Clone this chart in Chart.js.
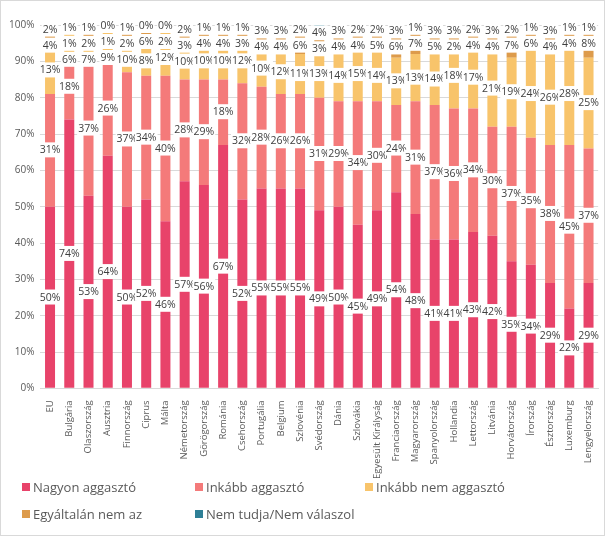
<!DOCTYPE html>
<html>
<head>
<meta charset="utf-8">
<script src="https://cdn.jsdelivr.net/npm/chart.js@4.4.1/dist/chart.umd.min.js"></script>
<style>
  html, body { margin: 0; padding: 0; background: #fff; }
  #wrap { position: relative; width: 605px; height: 536px; box-sizing: border-box; border: 1px solid #d9d9d9; font-family: "Open Sans", sans-serif; }
  #chartBox { position: absolute; left: 0; top: 0; width: 603px; height: 482px; }
  #legend { position: absolute; left: 21px; top: 477px; width: 580px; display: grid; grid-template-columns: 173px 170px 200px; row-gap: 9px; font-size: 13px; color: #595959; }
  .item { display: flex; align-items: center; white-space: nowrap; }
  .sw { width: 8px; height: 8px; margin-right: 3px; display: inline-block; }
</style>
</head>
<body>
<div id="wrap">
  <div id="chartBox"><canvas id="chart"></canvas></div>
  <div id="legend"></div>
</div>
<script>
// kategóriák és adatok (%)
const orszagok = ['EU', 'Bulgária', 'Olaszország', 'Ausztria', 'Finnország', 'Ciprus', 'Málta', 'Németország', 'Görögország', 'Románia', 'Csehország', 'Portugália', 'Belgium', 'Szlovénia', 'Svédország', 'Dánia', 'Szlovákia', 'Egyesült Királyság', 'Franciaország', 'Magyarország', 'Spanyolország', 'Hollandia', 'Lettország', 'Litvánia', 'Horvátország', 'Írország', 'Észtország', 'Luxemburg', 'Lengyelország'];

const nagyon     = [50, 74, 53, 64, 50, 52, 46, 57, 56, 67, 52, 55, 55, 55, 49, 50, 45, 49, 54, 48, 41, 41, 43, 42, 35, 34, 29, 22, 29];
const inkabb     = [31, 18, 37, 26, 37, 34, 40, 28, 29, 18, 32, 28, 26, 26, 31, 29, 34, 30, 24, 31, 37, 36, 34, 30, 37, 35, 38, 45, 37];
const inkabbNem  = [13,  6,  7,  9, 10,  8, 12, 10, 10, 10, 12, 10, 12, 11, 13, 14, 15, 14, 13, 13, 14, 18, 17, 21, 19, 24, 26, 28, 25];
const egyaltalan = [ 4,  1,  2,  1,  2,  6,  2,  3,  4,  4,  3,  4,  4,  6,  3,  4,  4,  5,  6,  7,  5,  2,  4,  4,  7,  6,  4,  4,  8];
const nemTudja   = [ 2,  1,  1,  0,  1,  0,  0,  2,  1,  1,  1,  3,  3,  2,  4,  3,  2,  2,  3,  1,  3,  3,  2,  3,  2,  1,  3,  1,  1];

const yTicks = [0, 10, 20, 30, 40, 50, 60, 70, 80, 90, 100];

const sorozatok = [
    { label: 'Nagyon aggasztó', data: nagyon, color: '#E8436A' },
    { label: 'Inkább aggasztó', data: inkabb, color: '#F47A7A' },
    { label: 'Inkább nem aggasztó', data: inkabbNem, color: '#F8C46B' },
    { label: 'Egyáltalán nem az', data: egyaltalan, color: '#DD9B4B' },
    { label: 'Nem tudja/Nem válaszol', data: nemTudja, color: '#2E7F96' }
];

// adatfeliratok: szegmens közepén, átfedésnél lefelé tolva
const labelPlugin = {
    id: 'segLabels',
    afterDatasetsDraw(chart) {
        const ctx = chart.ctx;
        const y = chart.scales.y;
        ctx.save();
        ctx.font = '10.5px "Open Sans"';
        ctx.textAlign = 'center';
        ctx.textBaseline = 'middle';
        orszagok.forEach((o, i) => {
            const meta0 = chart.getDatasetMeta(0);
            const x = meta0.data[i].x;
            let cum = 0;
            const pos = sorozatok.map(s => {
                const c = cum + s.data[i] / 2;
                cum += s.data[i];
                return y.getPixelForValue(c);
            });
            // felülről lefelé
            pos[pos.length - 1] += 1;
            for (let k = pos.length - 2; k >= 0; k--) {
                if (pos[k] < pos[k + 1] + 16) pos[k] = pos[k + 1] + 16;
            }
            sorozatok.forEach((s, k) => {
                const txt = s.data[i] + '%';
                const w = ctx.measureText(txt).width + 2;
                ctx.fillStyle = '#fff';
                ctx.fillRect(x - w / 2, pos[k] - 8, w, 15);
                ctx.fillStyle = '#404040';
                ctx.fillText(txt, x, pos[k]);
            });
        });
        ctx.restore();
    }
};

new Chart(document.getElementById('chart'), {
    type: 'bar',
    data: {
        labels: orszagok,
        datasets: sorozatok.map(s => ({
            label: s.label,
            data: s.data,
            backgroundColor: s.color,
            barPercentage: 0.52,
            categoryPercentage: 1
        }))
    },
    options: {
        responsive: true,
        maintainAspectRatio: false,
        animation: false,
        layout: { padding: { top: 24, right: 4, left: 2, bottom: 0 } },
        plugins: {
            legend: { display: false },
            tooltip: { enabled: false }
        },
        scales: {
            x: {
                stacked: true,
                grid: { display: false },
                border: { color: '#d9d9d9' },
                ticks: {
                    color: '#595959',
                    font: { family: 'Open Sans', size: 9.5 },
                    minRotation: 90,
                    maxRotation: 90,
                    autoSkip: false,
                    padding: 4
                }
            },
            y: {
                stacked: true,
                min: 0,
                max: 100,
                afterBuildTicks: axis => { axis.ticks = yTicks.map(v => ({ value: v })); },
                grid: { color: '#d9d9d9', drawTicks: false },
                border: { display: false },
                ticks: {
                    color: '#595959',
                    font: { family: 'Open Sans', size: 10 },
                    padding: 6,
                    callback: v => v + '%'
                }
            }
        }
    },
    plugins: [labelPlugin]
});

// jelmagyarázat
const legend = document.getElementById('legend');
sorozatok.forEach(s => {
    const d = document.createElement('div');
    d.className = 'item';
    d.innerHTML = '<span class="sw" style="background:' + s.color + '"></span>' + s.label;
    legend.appendChild(d);
});
</script>
</body>
</html>
